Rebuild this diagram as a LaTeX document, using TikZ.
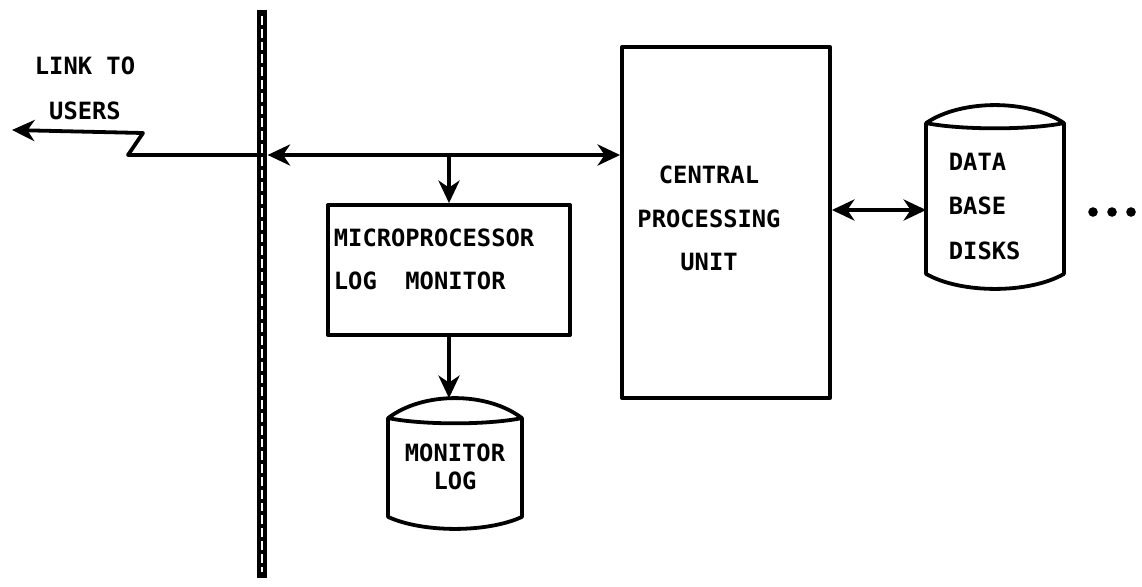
\documentclass[tikz,border=0pt]{standalone}
\usepackage{fontspec}
\newfontfamily\typer{DejaVu Sans Mono}
\usetikzlibrary{arrows.meta,calc}
\tikzset{
    txt/.style={font=\typer\bfseries\fontsize{16.9}{#1}\selectfont, inner sep=0pt},
    txt/.default=31,
    box/.style={draw, inner sep=0pt},
    drum/.style={inner sep=0pt},
    flow/.style={-{Stealth[length=16pt,width=15pt,inset=5pt]}},
    biflow/.style={{Stealth[length=16pt,width=15pt,inset=5pt]}-{Stealth[length=16pt,width=15pt,inset=5pt]}}
}
\begin{document}
\begin{tikzpicture}[x=0.025cm, y=-0.025cm, line width=2.7pt, line join=round]
    \useasboundingbox (0,0) rectangle (1142,586);
    % Bus bar
    \coordinate (bartop) at (262,10);
    \coordinate (barbot) at (262,578);
    \coordinate (busL) at (262,155);
    \coordinate (users) at (12,130);
    \draw[line width=0.27cm] (bartop) -- (barbot);
    \draw[white, line width=0.07cm, dash pattern=on 0.22cm off 0.1cm, shorten <=0.15cm, shorten >=0.15cm] (bartop) -- (barbot);

    % Boxes and drums
    \node[box, minimum width=6.05cm, minimum height=3.25cm] (mlm) at (449,270) {};
    \node[box, minimum width=5.2cm, minimum height=8.775cm] (cpu) at (726,222.5) {};
    \node[drum, minimum width=3.35cm, minimum height=4.5cm] (db) at (995,197) {};
    \node[drum, minimum width=3.25cm, minimum height=3.175cm] (mlog) at (455,463.5) {};
    \foreach \d/\t/\b in {db/18/15, mlog/20/12} {
        \draw ($(\d.north west)+(0,\t)$)
            .. controls ($(\d.north west)+(35,{-\t/3})$) and ($(\d.north east)+(-35,{-\t/3})$) .. ($(\d.north east)+(0,\t)$)
            -- ($(\d.south east)+(0,-\b)$)
            .. controls ($(\d.south east)+(-35,{\b/3})$) and ($(\d.south west)+(35,{\b/3})$) .. ($(\d.south west)+(0,-\b)$)
            -- cycle;
        \draw ($(\d.north west)+(0,\t)$)
            .. controls ($(\d.north west)+(35,{\t+7})$) and ($(\d.north east)+(-35,{\t+7})$) .. ($(\d.north east)+(0,\t)$);
    }

    % Texts
    \node[txt=32, align=center, anchor=north] (linktxt) at (85,55) {LINK TO\\USERS};
    \node[txt=30.6, align=left, anchor=north west] (mlmtxt) at (332,227) {MICROPROCESSOR\\LOG\ \ MONITOR};
    \node[txt=31, align=center] (cputxt) at (709,218.5) {CENTRAL\\PROCESSING\\UNIT};
    \node[txt=31.7, align=left, anchor=north west] (dbtxt) at (947,151) {DATA\\BASE\\DISKS};
    \node[txt=20.3, align=center] (mlogtxt) at (455,467) {MONITOR\\LOG};

    % Connectors
    \draw[flow] (busL) -- ++(-134,0) -- ++(15,-22) -- (users);
    \draw[biflow] ([xshift=0.14cm]busL) -- (cpu.west |- busL);
    \draw[flow] (mlm.north |- busL) -- (mlm.north);
    \draw[flow] (mlm.south) -- (mlm.south |- mlog.north);
    \coordinate (dbport) at (880,210);
    \draw[biflow] (cpu.east |- dbport) -- (db.west |- dbport);

    \foreach \x in {1093,1112,1131} {
        \fill (\x,212) circle[radius=0.12cm];
    }
\end{tikzpicture}
\end{document}
